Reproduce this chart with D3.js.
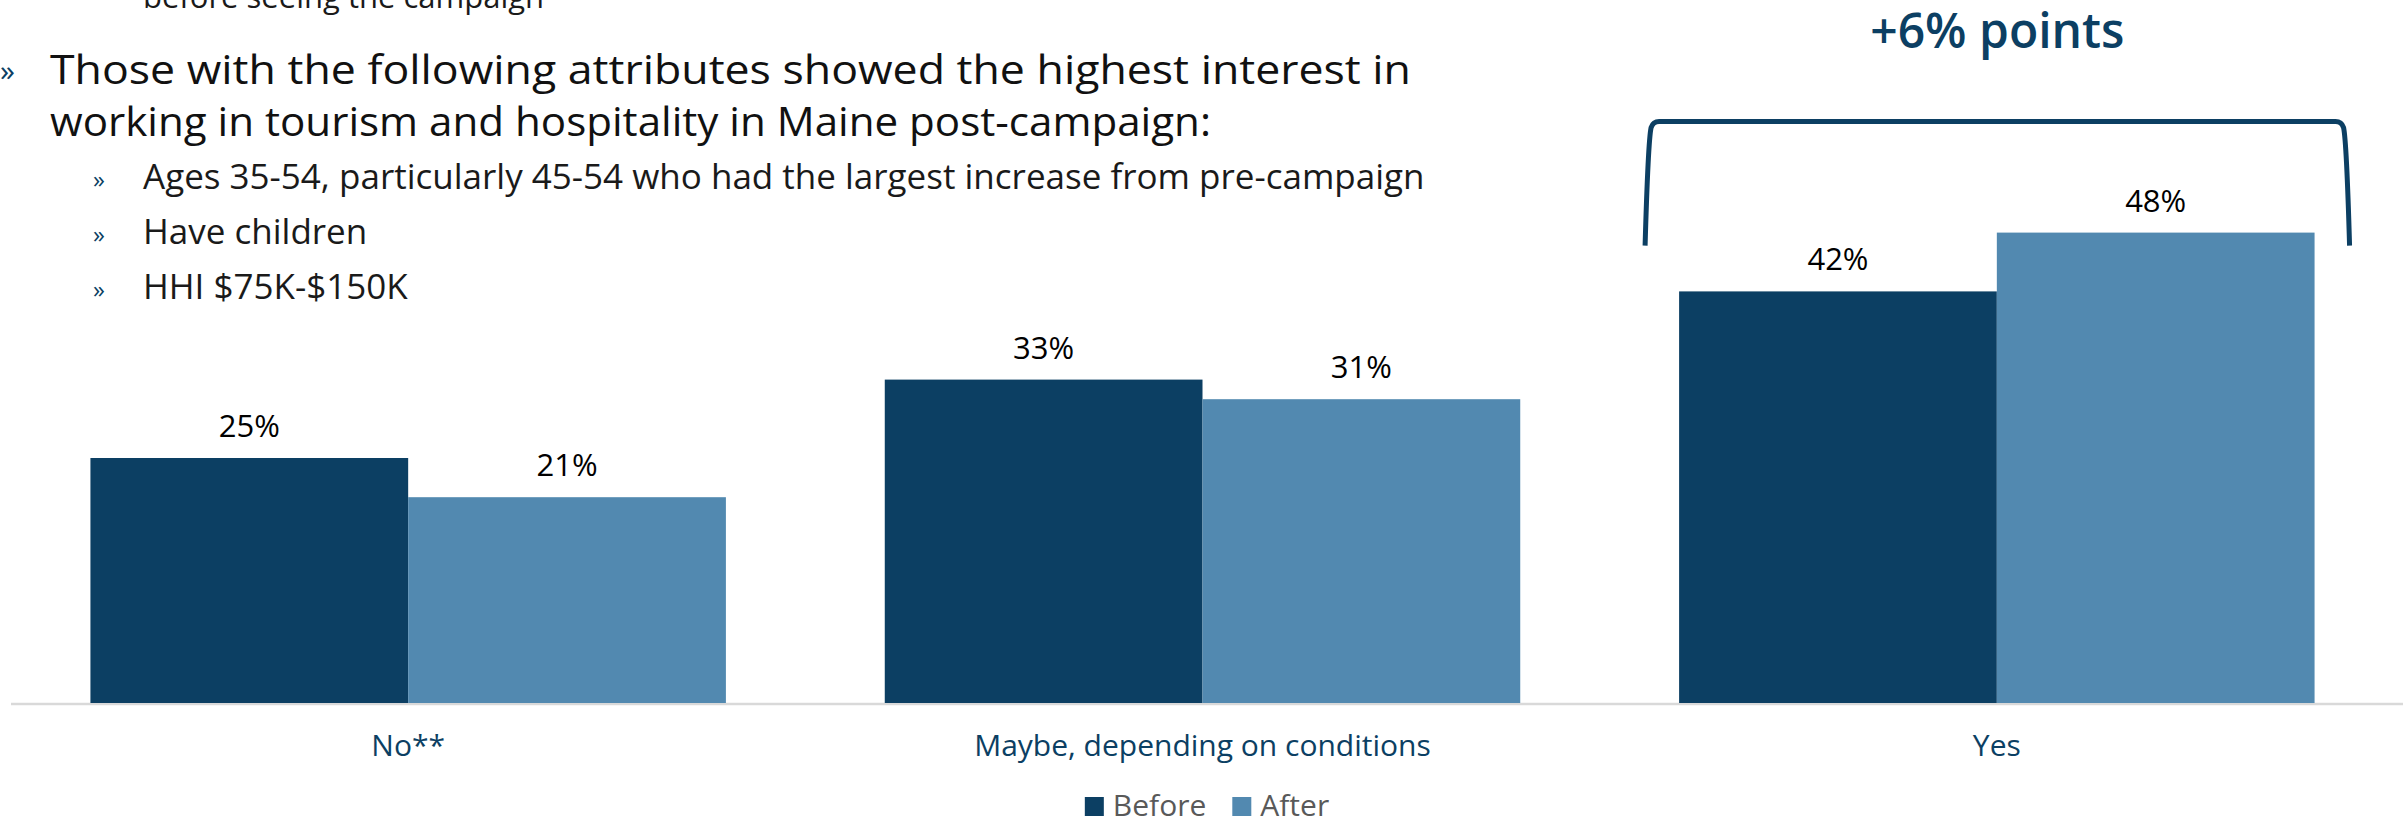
<!DOCTYPE html>
<html>
<head>
<meta charset="utf-8">
<script src="https://cdn.jsdelivr.net/npm/d3@7"></script>
<style>
  html, body { margin: 0; padding: 0; background: #ffffff; }
  svg { display: block; font-family: "Open Sans", "Noto Sans", sans-serif; }
</style>
</head>
<body>
<svg id="chart" width="2403" height="824"></svg>
<script>
// Interest in working in tourism & hospitality in Maine, before vs after the campaign (%)
const categories = ["No**", "Maybe, depending on conditions", "Yes"];
const seriesNames = ["Before", "After"];
const beforeValues = [25, 33, 42];
const afterValues = [21, 31, 48];
const seriesColors = ["#0c3f63", "#5289b0"];

// Commentary text above the chart
const carryOverLine = "before seeing the campaign";
const headingLines = [
  "Those with the following attributes showed the highest interest in",
  "working in tourism and hospitality in Maine post-campaign:"
];
const headingWidths = [1361, 1161];
const bulletItems = [
  "Ages 35-54, particularly 45-54 who had the largest increase from pre-campaign",
  "Have children",
  "HHI $75K-$150K"
];

const rows = categories.map((c, i) => ({
  category: c,
  values: [
    { series: seriesNames[0], value: beforeValues[i] },
    { series: seriesNames[1], value: afterValues[i] }
  ]
}));

const svg = d3.select("#chart");
const navy = "#0c3f63";

// Scales
const x0 = d3.scaleBand()
  .domain(categories)
  .range([11, 2394])
  .paddingInner(0.2)
  .paddingOuter(0.1);

const x1 = d3.scaleBand()
  .domain(seriesNames)
  .range([0, x0.bandwidth()])
  .padding(0);

const y = d3.scaleLinear().domain([0, 50]).range([703, 213]);
const color = d3.scaleOrdinal().domain(seriesNames).range(seriesColors);

// Text block
const text = svg.append("g").attr("class", "commentary");

text.append("text")
  .attr("x", 143).attr("y", 8)
  .attr("font-size", 31).attr("fill", "#1a1a1a")
  .text(carryOverLine);

text.append("text")
  .attr("x", 0).attr("y", 81)
  .attr("font-size", 30).attr("fill", navy)
  .text("»");

text.selectAll("text.heading")
  .data(headingLines)
  .join("text")
  .attr("class", "heading")
  .attr("x", 50)
  .attr("y", (d, i) => 84 + i * 52)
  .attr("font-size", 41)
  .attr("fill", "#111")
  .attr("textLength", (d, i) => headingWidths[i])
  .attr("lengthAdjust", "spacingAndGlyphs")
  .text(d => d);

const bullets = text.selectAll("g.bullet")
  .data(bulletItems)
  .join("g")
  .attr("class", "bullet")
  .attr("transform", (d, i) => `translate(0, ${189 + i * 55})`);

bullets.append("text")
  .attr("x", 93).attr("y", -1)
  .attr("font-size", 24).attr("fill", navy)
  .text("»");

bullets.append("text")
  .attr("x", 143).attr("y", 0)
  .attr("font-size", 35).attr("fill", "#1a1a1a")
  .text(d => d);

// Baseline
svg.append("line")
  .attr("x1", 11).attr("x2", 2403)
  .attr("y1", y(0) + 1).attr("y2", y(0) + 1)
  .attr("stroke", "#d9d9d9").attr("stroke-width", 2.5);

// Bars
const groups = svg.append("g").attr("class", "bars")
  .selectAll("g")
  .data(rows)
  .join("g")
  .attr("transform", d => `translate(${x0(d.category)},0)`);

groups.selectAll("rect")
  .data(d => d.values)
  .join("rect")
  .attr("x", d => x1(d.series))
  .attr("y", d => y(d.value))
  .attr("width", x1.bandwidth())
  .attr("height", d => y(0) - y(d.value))
  .attr("fill", d => color(d.series));

groups.selectAll("text.value")
  .data(d => d.values)
  .join("text")
  .attr("class", "value")
  .attr("x", d => x1(d.series) + x1.bandwidth() / 2)
  .attr("y", d => y(d.value) - 21)
  .attr("text-anchor", "middle")
  .attr("font-size", 31)
  .attr("fill", "#000")
  .text(d => d.value + "%");

// Category axis labels
svg.append("g").attr("class", "x-labels")
  .selectAll("text")
  .data(categories)
  .join("text")
  .attr("x", d => x0(d) + x0.bandwidth() / 2)
  .attr("y", 756)
  .attr("text-anchor", "middle")
  .attr("font-size", 30)
  .attr("fill", navy)
  .text(d => d);

// Bracket over the "Yes" group with the change in points
const yesIdx = categories.indexOf("Yes");
const change = afterValues[yesIdx] - beforeValues[yesIdx];
const xl = x0("Yes") - 34;
const xr = x0("Yes") + x0.bandwidth() + 35;
const yBottom = y(afterValues[yesIdx]) + 13;
const yTop = y(afterValues[yesIdx]) - 111;

const bracket = d3.path();
bracket.moveTo(xl, yBottom);
bracket.quadraticCurveTo(xl + 3, yTop + 20, xl + 6, yTop + 6);
bracket.quadraticCurveTo(xl + 8, yTop, xl + 14, yTop);
bracket.lineTo(xr - 14, yTop);
bracket.quadraticCurveTo(xr - 8, yTop, xr - 6, yTop + 6);
bracket.quadraticCurveTo(xr - 3, yTop + 20, xr, yBottom);

svg.append("path")
  .attr("d", bracket.toString())
  .attr("fill", "none")
  .attr("stroke", navy)
  .attr("stroke-width", 5);

svg.append("text")
  .attr("x", (xl + xr) / 2)
  .attr("y", 48)
  .attr("text-anchor", "middle")
  .attr("font-size", 48)
  .attr("font-weight", 600)
  .attr("fill", navy)
  .text(`+${change}% points`);

// Legend
const legend = svg.append("g").attr("class", "legend");
const items = legend.selectAll("g")
  .data(seriesNames)
  .join("g");
items.append("rect")
  .attr("width", 19).attr("height", 19)
  .attr("y", 797)
  .attr("fill", d => color(d));
items.append("text")
  .attr("x", 28).attr("y", 816)
  .attr("font-size", 30)
  .attr("fill", "#595959")
  .text(d => d);

const widths = [];
items.each(function () {
  const w = 28 + d3.select(this).select("text").node().getComputedTextLength();
  widths.push(w);
});
const gap = 26;
const total = d3.sum(widths) + gap * (widths.length - 1);
let start = 1207 - total / 2;
items.attr("transform", (d, i) => {
  const t = `translate(${start},0)`;
  start += widths[i] + gap;
  return t;
});
</script>
</body>
</html>
